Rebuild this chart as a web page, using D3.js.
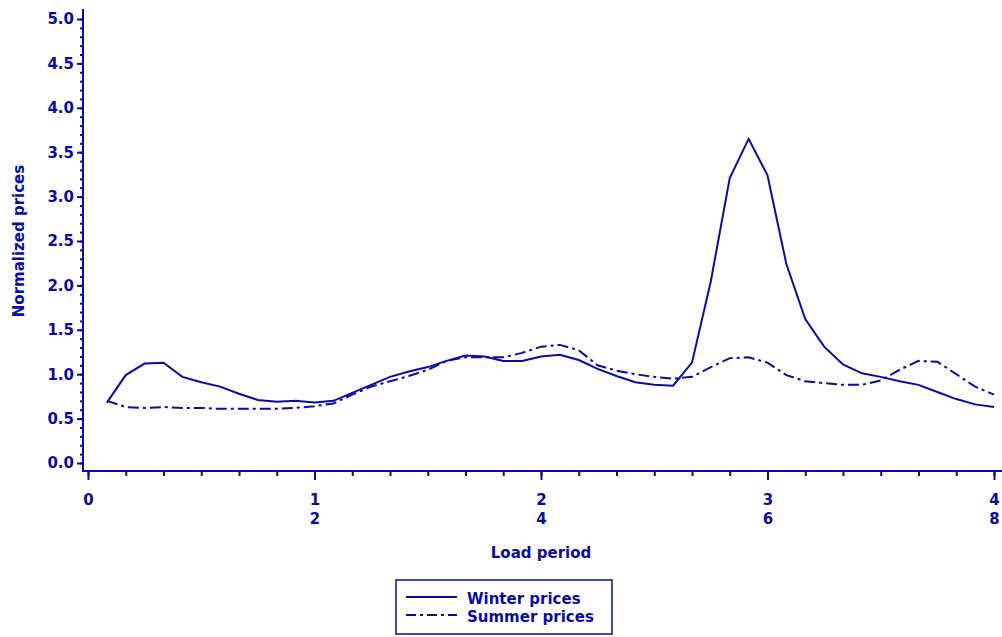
<!DOCTYPE html>
<html>
<head>
<meta charset="utf-8">
<script src="https://cdn.jsdelivr.net/npm/d3@7"></script>
<style>
    body { margin: 0; background: #fff; }
    svg { font-family: "DejaVu Sans", sans-serif; font-weight: bold; }
</style>
</head>
<body>
<div id="chart"></div>
<script>
// load periods 1..48
const periods = d3.range(1, 49);

const winterPrices = [
    0.68, 0.99, 1.12, 1.13, 0.97, 0.91, 0.86, 0.78, 0.71, 0.69,
    0.70, 0.68, 0.70, 0.79, 0.88, 0.97, 1.03, 1.08, 1.15, 1.21,
    1.20, 1.15, 1.15, 1.20, 1.22, 1.16, 1.06, 0.98, 0.91, 0.88,
    0.87, 1.13, 2.05, 3.21, 3.65, 3.24, 2.24, 1.62, 1.31, 1.11,
    1.01, 0.97, 0.92, 0.88, 0.80, 0.72, 0.66, 0.63
];

const summerPrices = [
    0.70, 0.63, 0.62, 0.63, 0.62, 0.62, 0.61, 0.61, 0.61, 0.61,
    0.62, 0.64, 0.67, 0.77, 0.86, 0.92, 0.98, 1.05, 1.15, 1.19,
    1.19, 1.19, 1.24, 1.31, 1.33, 1.27, 1.10, 1.04, 1.00, 0.97,
    0.95, 0.97, 1.08, 1.18, 1.19, 1.13, 0.99, 0.92, 0.90, 0.88,
    0.88, 0.93, 1.05, 1.15, 1.14, 1.00, 0.86, 0.77
];

const seriesNames = ["Winter prices", "Summer prices"];
const yTicks = d3.range(0, 5.01, 0.5);
const xTicks = [0, 12, 24, 36, 48];

const color = "#0a0aa6";
const dashes = [null, "11,4,3,4"];

const width = 1002, height = 637;

const svg = d3.select("#chart").append("svg")
    .attr("width", width)
    .attr("height", height);

const x = d3.scaleLinear().domain([0, 48]).range([88, 994]);
const y = d3.scaleLinear().domain([0, 5]).range([463, 19]);

const axisX = 83, axisY = 471;

// y axis: minor then major ticks
svg.append("g").attr("transform", `translate(${axisX},0)`)
    .call(d3.axisLeft(y).tickValues(d3.range(0, 5.001, 0.1)).tickSize(3).tickFormat(""));
svg.append("g").attr("transform", `translate(${axisX},0)`)
    .call(d3.axisLeft(y).tickValues(yTicks).tickSize(6).tickPadding(3).tickFormat(d3.format(".1f")));

// x axis
svg.append("g").attr("transform", `translate(0,${axisY})`)
    .call(d3.axisBottom(x).tickValues(d3.range(0, 49, 2)).tickSize(5).tickFormat(""));
const gxMaj = svg.append("g").attr("transform", `translate(0,${axisY})`)
    .call(d3.axisBottom(x).tickValues(xTicks).tickSize(9).tickFormat(d => String(d)));

// stacked digits, SAS style
gxMaj.selectAll(".tick text").each(function(d) {
    const t = d3.select(this);
    t.text(null).attr("y", null).attr("dy", null);
    String(d).split("").forEach((ch, i) => {
        t.append("tspan").attr("x", 0).attr("y", 34 + i * 19).text(ch);
    });
});

svg.selectAll(".domain").remove();
svg.selectAll(".tick line").attr("stroke", color).attr("stroke-width", 2);
svg.selectAll(".tick text").attr("fill", color)
    .style("font-family", "'DejaVu Sans', sans-serif")
    .style("font-weight", "bold")
    .style("font-size", "15px");

// axis lines
svg.append("line").attr("x1", axisX).attr("x2", axisX).attr("y1", 9).attr("y2", axisY + 1)
    .attr("stroke", color).attr("stroke-width", 2);
svg.append("line").attr("x1", axisX).attr("x2", 1002).attr("y1", axisY).attr("y2", axisY)
    .attr("stroke", color).attr("stroke-width", 2);

// titles
svg.append("text")
    .attr("transform", "translate(24,241) rotate(-90)")
    .attr("text-anchor", "middle")
    .attr("fill", color)
    .style("font-size", "15px")
    .text("Normalized prices");

svg.append("text")
    .attr("x", 541).attr("y", 558)
    .attr("text-anchor", "middle")
    .attr("fill", color)
    .style("font-size", "15px")
    .text("Load period");

// lines
const line = d3.line().x((d, i) => x(periods[i])).y(d => y(d));
[winterPrices, summerPrices].forEach((data, k) => {
    svg.append("path")
        .datum(data)
        .attr("fill", "none")
        .attr("stroke", color)
        .attr("stroke-width", 2)
        .attr("stroke-dasharray", dashes[k])
        .attr("d", line);
});

// legend
const lg = svg.append("g");
lg.append("rect")
    .attr("x", 396).attr("y", 580).attr("width", 216).attr("height", 54)
    .attr("fill", "none").attr("stroke", color).attr("stroke-width", 1.5);
seriesNames.forEach((name, k) => {
    const ly = 597 + k * 18;
    lg.append("line")
        .attr("x1", 406).attr("x2", 457).attr("y1", ly).attr("y2", ly)
        .attr("stroke", color).attr("stroke-width", 2)
        .attr("stroke-dasharray", k ? "10,4,3,4" : null);
    lg.append("text")
        .attr("x", 467).attr("y", ly + 7)
        .attr("fill", color)
        .style("font-size", "15px")
        .text(name);
});
</script>
</body>
</html>
